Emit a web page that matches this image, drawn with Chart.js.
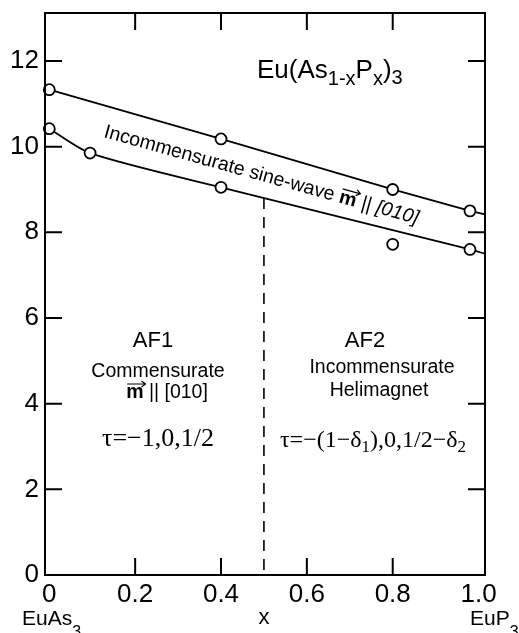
<!DOCTYPE html>
<html>
<head>
<meta charset="utf-8">
<script src="https://cdn.jsdelivr.net/npm/chart.js@4"></script>
<style>
  html, body { margin: 0; padding: 0; background: #fff; }
  #wrap { width: 519px; height: 633px; position: relative; }
</style>
</head>
<body>
<div id="wrap"><canvas id="phase"></canvas></div>
<script>
const xTickValues = [0, 0.2, 0.4, 0.6, 0.8, 1.0];
const xTickLabels = ["0", "0.2", "0.4", "0.6", "0.8", "1.0"];
const yTickValues = [0, 2, 4, 6, 8, 10, 12];

// upper transition (paramagnet -> sine-wave)
const upperX = [0, 0.4, 0.8, 0.98, 1.015];
const upperY = [11.33, 10.18, 9.0, 8.5, 8.42];
const upperMarked = [true, true, true, true, false];

// lower transition (sine-wave -> AF1 / AF2)
const lowerX = [0, 0.095, 0.4, 0.98, 1.015];
const lowerY = [10.42, 9.85, 9.05, 7.6, 7.5];
const lowerMarked = [true, true, true, true, false];

// lone point below the line at x = 0.8
const extraX = [0.8];
const extraY = [7.72];

// AF1 / AF2 boundary
const boundaryX = [0.5, 0.5];
const boundaryY = [8.8, 0];

const sans = '"Liberation Sans", Arial, sans-serif';
const serif = '"Liberation Serif", "Times New Roman", serif';

const toPoints = (xs, ys) => xs.map((x, i) => ({ x, y: ys[i] }));

function drawVec(ctx, x0, x1, y) {
  ctx.save();
  ctx.lineWidth = 1.2;
  ctx.beginPath();
  ctx.moveTo(x0, y);
  ctx.lineTo(x1, y);
  ctx.moveTo(x1 - 4, y - 3);
  ctx.lineTo(x1, y);
  ctx.lineTo(x1 - 4, y + 3);
  ctx.stroke();
  ctx.restore();
}

function drawRuns(ctx, x, y, parts, align) {
  let w = 0;
  parts.forEach((p) => {
    ctx.font = p.font;
    p.w = ctx.measureText(p.t).width;
    w += p.w;
  });
  let cx = align === "center" ? x - w / 2 : x;
  parts.forEach((p) => {
    ctx.font = p.font;
    ctx.fillText(p.t, cx, y + (p.dy || 0));
    if (p.vec) drawVec(ctx, cx + 1, cx + p.w + 2, y - p.vec);
    cx += p.w;
  });
}

const framePlugin = {
  id: "frame",
  afterDraw(chart) {
    const { ctx, chartArea: a, scales } = chart;
    const xs = scales.x;
    const ys = scales.y;
    ctx.save();
    ctx.strokeStyle = "#000";
    ctx.fillStyle = "#000";
    ctx.lineWidth = 2;
    ctx.strokeRect(a.left, a.top, a.right - a.left, a.bottom - a.top);

    ctx.beginPath();
    xTickValues.slice(1, -1).forEach((v) => {
      const px = xs.getPixelForValue(v);
      ctx.moveTo(px, a.bottom);
      ctx.lineTo(px, a.bottom - 17);
      ctx.moveTo(px, a.top);
      ctx.lineTo(px, a.top + 17);
    });
    yTickValues.slice(1).forEach((v) => {
      const py = ys.getPixelForValue(v);
      ctx.moveTo(a.left, py);
      ctx.lineTo(a.left + 17, py);
      ctx.moveTo(a.right, py);
      ctx.lineTo(a.right - 17, py);
    });
    ctx.stroke();

    ctx.textBaseline = "alphabetic";
    ctx.textAlign = "left";

    // title
    drawRuns(ctx, 257, 78, [
      { t: "Eu(As", font: `26px ${sans}` },
      { t: "1-x", font: `20px ${sans}`, dy: 7 },
      { t: "P", font: `26px ${sans}` },
      { t: "x", font: `20px ${sans}`, dy: 7 },
      { t: ")", font: `26px ${sans}` },
      { t: "3", font: `20px ${sans}`, dy: 6 },
    ]);

    // label along the sine-wave band
    ctx.save();
    ctx.translate(103, 137);
    ctx.rotate((15.5 * Math.PI) / 180);
    drawRuns(ctx, 0, 0, [
      { t: "Incommensurate sine-wave ", font: `19.5px ${sans}` },
      { t: "m", font: `bold 19.5px ${sans}`, vec: 14 },
      { t: " || [010]", font: `italic 19.5px ${sans}` },
    ]);
    ctx.restore();

    // AF1 region
    drawRuns(ctx, 153, 347, [{ t: "AF1", font: `22px ${sans}` }], "center");
    drawRuns(ctx, 158, 377, [{ t: "Commensurate", font: `19.5px ${sans}` }], "center");
    drawRuns(ctx, 167, 398, [
      { t: "m", font: `bold 19.5px ${sans}`, vec: 14 },
      { t: " || [010]", font: `19.5px ${sans}` },
    ], "center");
    drawRuns(ctx, 158, 446, [{ t: "\u03c4=\u22121,0,1/2", font: `26px ${serif}` }], "center");

    // AF2 region
    drawRuns(ctx, 365, 347, [{ t: "AF2", font: `22px ${sans}` }], "center");
    drawRuns(ctx, 382, 373, [{ t: "Incommensurate", font: `19.5px ${sans}` }], "center");
    drawRuns(ctx, 379, 396, [{ t: "Helimagnet", font: `19.5px ${sans}` }], "center");
    drawRuns(ctx, 373, 447, [
      { t: "\u03c4=\u2212(1\u2212\u03b4", font: `24px ${serif}` },
      { t: "1", font: `17px ${serif}`, dy: 5 },
      { t: "),0,1/2\u2212\u03b4", font: `24px ${serif}` },
      { t: "2", font: `17px ${serif}`, dy: 5 },
    ], "center");

    // composition labels under the x axis
    drawRuns(ctx, 22, 625, [
      { t: "EuAs", font: `21px ${sans}` },
      { t: "3", font: `16px ${sans}`, dy: 12 },
    ]);
    drawRuns(ctx, xs.getPixelForValue(0.5), 624, [{ t: "x", font: `22px ${sans}` }], "center");
    drawRuns(ctx, 470, 625, [
      { t: "EuP", font: `21px ${sans}` },
      { t: "3", font: `16px ${sans}`, dy: 12 },
    ]);
    ctx.restore();
  },
};

const ctx = document.querySelector("#phase").getContext("2d");

new Chart(ctx, {
  type: "scatter",
  data: {
    datasets: [
      {
        data: toPoints(boundaryX, boundaryY),
        showLine: true,
        borderColor: "#000",
        borderWidth: 1.6,
        borderDash: [11, 8],
        pointRadius: 0,
        clip: false,
      },
      {
        data: toPoints(upperX, upperY),
        showLine: true,
        borderColor: "#000",
        borderWidth: 1.8,
        pointRadius: upperMarked.map((m) => (m ? 5.5 : 0)),
        pointBackgroundColor: "#fff",
        pointBorderColor: "#000",
        pointBorderWidth: 1.8,
        clip: false,
      },
      {
        data: toPoints(lowerX, lowerY),
        showLine: true,
        tension: 0.25,
        borderColor: "#000",
        borderWidth: 1.8,
        pointRadius: lowerMarked.map((m) => (m ? 5.5 : 0)),
        pointBackgroundColor: "#fff",
        pointBorderColor: "#000",
        pointBorderWidth: 1.8,
        clip: false,
      },
      {
        data: toPoints(extraX, extraY),
        showLine: false,
        pointRadius: 5.5,
        pointBackgroundColor: "#fff",
        pointBorderColor: "#000",
        pointBorderWidth: 1.8,
        clip: false,
      },
    ],
  },
  options: {
    responsive: true,
    maintainAspectRatio: false,
    animation: false,
    layout: { padding: { top: 13, right: 34, left: 0, bottom: 0 } },
    plugins: {
      legend: { display: false },
      tooltip: { enabled: false },
    },
    scales: {
      x: {
        type: "linear",
        min: -0.01,
        max: 1.015,
        afterBuildTicks: (scale) => {
          scale.ticks = xTickValues.map((v) => ({ value: v }));
        },
        afterFit: (scale) => {
          scale.height = 58;
          scale.paddingLeft = 0;
          scale.paddingRight = 0;
        },
        grid: { display: false, drawTicks: false },
        border: { display: false },
        ticks: {
          autoSkip: false,
          maxRotation: 0,
          padding: 4,
          color: "#000",
          font: { family: sans, size: 26 },
          callback: (value, index) => xTickLabels[index],
        },
      },
      y: {
        type: "linear",
        min: 0,
        max: 13.12,
        afterBuildTicks: (scale) => {
          scale.ticks = yTickValues.map((v) => ({ value: v }));
        },
        afterFit: (scale) => {
          scale.width = 45;
          scale.paddingTop = 0;
          scale.paddingBottom = 0;
        },
        grid: { display: false, drawTicks: false },
        border: { display: false },
        ticks: {
          padding: 6,
          color: "#000",
          font: { family: sans, size: 26 },
          callback: (value) => String(value),
        },
      },
    },
  },
  plugins: [framePlugin],
});
</script>
</body>
</html>
